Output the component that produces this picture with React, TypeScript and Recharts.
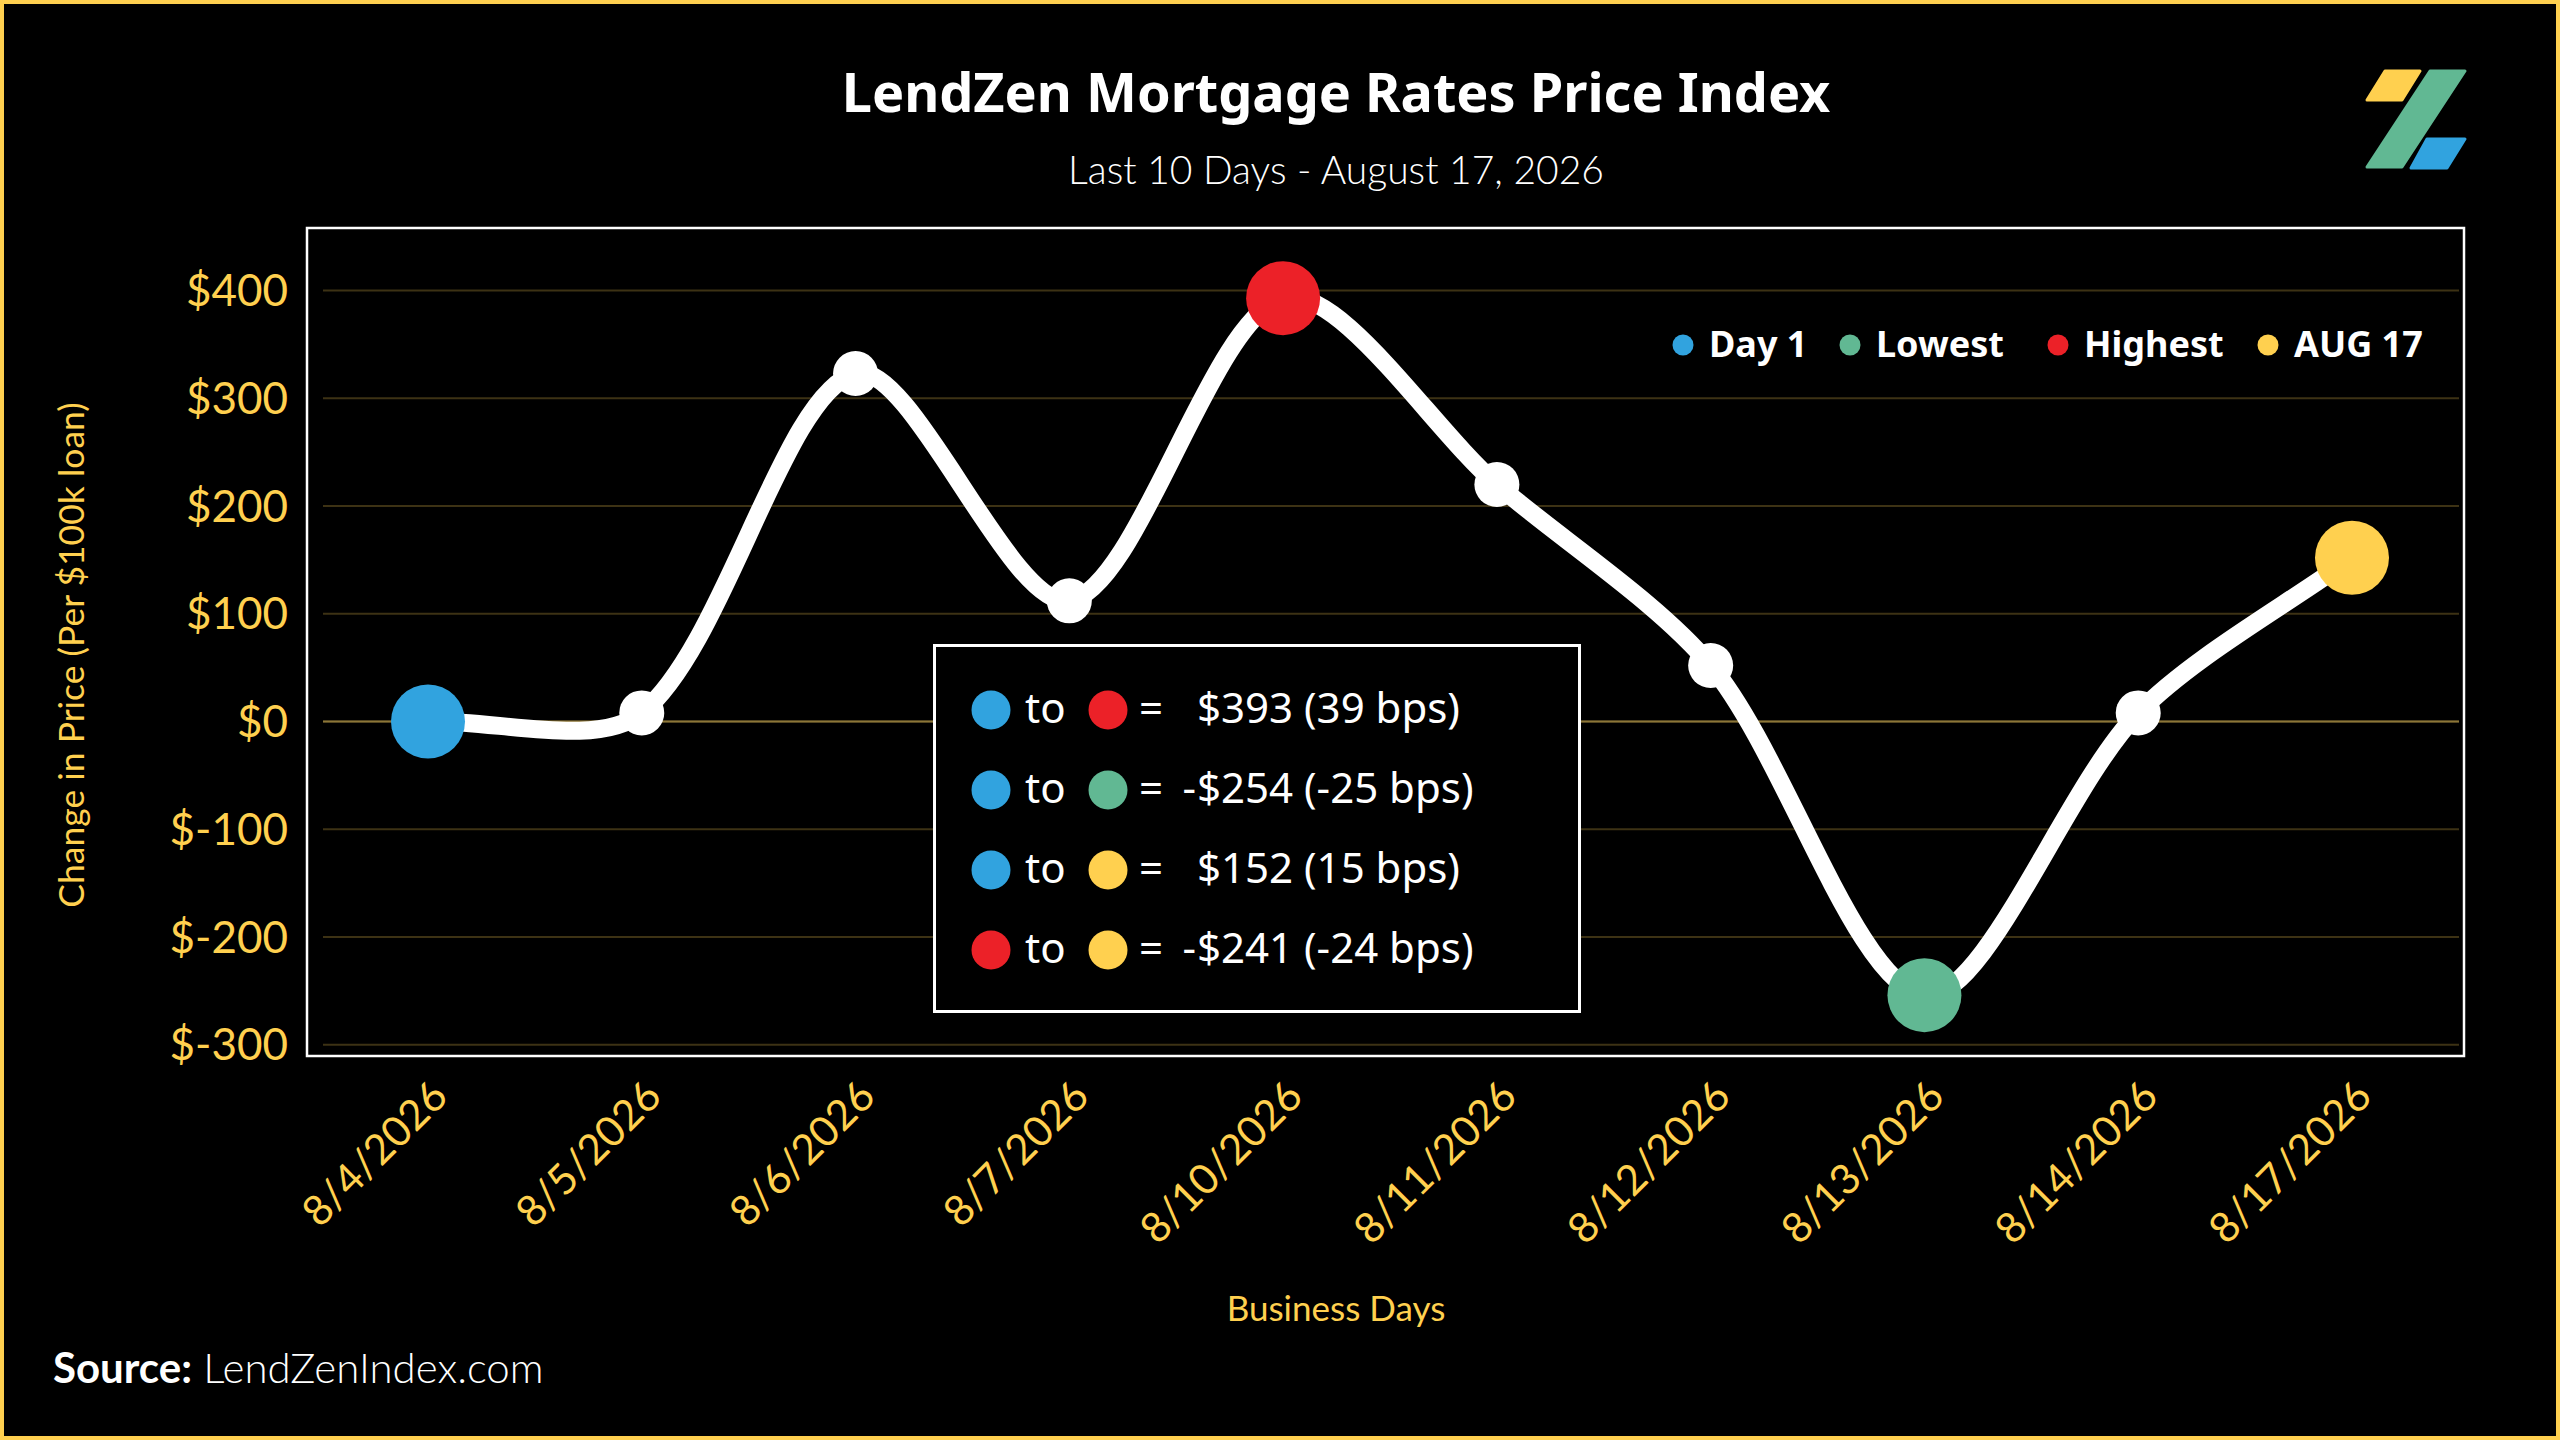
import { LineChart, Line, XAxis, YAxis, CartesianGrid, ReferenceLine } from 'recharts';

const dates = [
  '8/4/2026', '8/5/2026', '8/6/2026', '8/7/2026', '8/10/2026',
  '8/11/2026', '8/12/2026', '8/13/2026', '8/14/2026', '8/17/2026',
];
const priceChange = [0, 8, 323, 112, 393, 220, 52, -254, 8, 152];
const yTicks = [-300, -200, -100, 0, 100, 200, 300, 400];
const legendKeys = ['first', 'low', 'high', 'last'];
const legendLabels = ['Day 1', 'Lowest', 'Highest', 'AUG 17'];
const comparisonPairs = [
  ['first', 'high'],
  ['first', 'low'],
  ['first', 'last'],
  ['high', 'last'],
];

const GOLD = '#FFD04F';
const COLORS: Record<string, string> = {
  first: '#31A3DF',
  low: '#61B893',
  high: '#EC2128',
  last: '#FFD04F',
};

const data = dates.map((date, i) => ({ date, price: priceChange[i] }));

const markerIndex: Record<string, number> = {
  first: 0,
  low: priceChange.indexOf(Math.min(...priceChange)),
  high: priceChange.indexOf(Math.max(...priceChange)),
  last: priceChange.length - 1,
};
const markerKind = (i: number) => legendKeys.find((k) => markerIndex[k] === i);

const formatDiff = (diff: number) =>
  `$${Math.abs(diff)} (${Math.round(diff / 10)} bps)`;

// smoothed line like a spreadsheet: bezier handles weighted by chord length
const smoothCurve = (context: any) => {
  let pts: number[][] = [];
  const dist = (p: number[], q: number[]) => Math.hypot(p[0] - q[0], p[1] - q[1]);
  return {
    areaStart() {},
    areaEnd() {},
    lineStart() {
      pts = [];
    },
    point(x: number, y: number) {
      pts.push([+x, +y]);
    },
    lineEnd() {
      const s = 0.3;
      pts.forEach((p, i) => {
        if (i === 0) {
          context.moveTo(p[0], p[1]);
          return;
        }
        const a = pts[Math.max(i - 2, 0)];
        const b = pts[i - 1];
        const c = pts[Math.min(i + 1, pts.length - 1)];
        const seg = dist(p, b);
        const w1 = (s * seg) / (dist(b, a) + seg || 1);
        const w2 = (s * seg) / (seg + dist(c, p) || 1);
        context.bezierCurveTo(
          b[0] + w1 * (p[0] - a[0]), b[1] + w1 * (p[1] - a[1]),
          p[0] - w2 * (c[0] - b[0]), p[1] - w2 * (c[1] - b[1]),
          p[0], p[1],
        );
      });
    },
  };
};

const renderDot = (props: any) => {
  const { cx, cy, index } = props;
  const kind = markerKind(index);
  return (
    <circle
      key={`dot-${index}`}
      cx={cx}
      cy={cy}
      r={kind ? 37 : 22.5}
      fill={kind ? COLORS[kind] : '#FFFFFF'}
    />
  );
};

const DateTick = ({ x, y, payload }: any) => (
  <text
    x={x + 22}
    y={y + 54}
    transform={`rotate(-45, ${x + 22}, ${y + 54})`}
    textAnchor="end"
    fill={GOLD}
    fontSize={42}
    fontFamily="Lato"
  >
    {payload.value}
  </text>
);

const legendX = [1683, 1850, 2058, 2268];
const rowY = [710, 790, 870, 950];

export default function App() {
  return (
    <div style={{ position: 'absolute', left: 0, top: 0, width: 2560, height: 1440, background: '#000' }}>
      <div style={{ position: 'absolute', left: 0, top: 0 }}>
        <LineChart
          width={2560}
          height={1440}
          data={data}
          margin={{ top: 290.6, right: 101, bottom: 335.3, left: 203 }}
        >
          <CartesianGrid horizontal vertical={false} stroke="#3D3214" strokeWidth={2} />
          <XAxis
            dataKey="date"
            height={60}
            padding={{ left: 105, right: 107 }}
            axisLine={false}
            tickLine={false}
            tickSize={0}
            tickMargin={0}
            interval={0}
            tick={<DateTick />}
          />
          <YAxis
            width={120}
            domain={[-300, 400]}
            ticks={yTicks}
            axisLine={false}
            tickLine={false}
            tickSize={0}
            tickMargin={35}
            tick={{ fill: GOLD, fontSize: 44, fontFamily: 'Lato' }}
            tickFormatter={(v) => `$${v}`}
          />
          <ReferenceLine y={0} stroke="#8C7638" strokeWidth={2} />
          <Line
            type={smoothCurve as any}
            dataKey="price"
            stroke="#FFFFFF"
            strokeWidth={18}
            dot={renderDot}
            activeDot={false}
            isAnimationActive={false}
          />
        </LineChart>
      </div>

      <svg
        width={2560}
        height={1440}
        style={{ position: 'absolute', left: 0, top: 0, pointerEvents: 'none' }}
      >
        <rect x={2} y={2} width={2556} height={1436} fill="none" stroke={GOLD} strokeWidth={4} />
        <rect x={307} y={228} width={2157} height={828} fill="none" stroke="#FFFFFF" strokeWidth={2.5} />

        <text x={1336} y={112} textAnchor="middle" fill="#FFFFFF" fontSize={54} fontWeight={700} fontFamily="Noto Sans">
          LendZen Mortgage Rates Price Index
        </text>
        <text x={1336} y={184} textAnchor="middle" fill="#FFFFFF" fontSize={39} fontWeight={300} fontFamily="Lato">
          Last 10 Days - August 17, 2026
        </text>

        <g strokeLinejoin="round" strokeWidth={3}>
          <polygon points="2367,100 2385,71 2420,71 2402,100" fill="#FFD04F" stroke="#FFD04F" />
          <polygon points="2367,167 2430,71 2465,71 2402,167" fill="#61B893" stroke="#61B893" />
          <polygon points="2411,168 2427,139 2465,139 2447,168" fill="#31A3DF" stroke="#31A3DF" />
        </g>

        <text
          x={84}
          y={655}
          transform="rotate(-90, 84, 655)"
          textAnchor="middle"
          fill={GOLD}
          fontSize={35.5}
          fontFamily="Lato"
        >
          Change in Price (Per $100k loan)
        </text>
        <text x={1336} y={1321} textAnchor="middle" fill={GOLD} fontSize={35} fontFamily="Lato">
          Business Days
        </text>
        <text x={53} y={1383} fill="#FFFFFF" fontSize={42} fontFamily="Lato">
          <tspan fontWeight={700}>Source:</tspan>
          <tspan fontWeight={300}> LendZenIndex.com</tspan>
        </text>

        {legendKeys.map((k, i) => (
          <g key={k}>
            <circle cx={legendX[i]} cy={345} r={10.5} fill={COLORS[k]} />
            <text x={legendX[i] + 26} y={357} fill="#FFFFFF" fontSize={36} fontWeight={700} fontFamily="Noto Sans">
              {legendLabels[i]}
            </text>
          </g>
        ))}

        <rect x={934.5} y={645.5} width={645} height={366} fill="#000" stroke="#FFFFFF" strokeWidth={3} />
        {comparisonPairs.map(([from, to], i) => {
          const diff = priceChange[markerIndex[to]] - priceChange[markerIndex[from]];
          const y = rowY[i];
          return (
            <g key={i} fontFamily="Noto Sans" fontSize={42} fill="#FFFFFF">
              <circle cx={991} cy={y} r={19.5} fill={COLORS[from]} />
              <text x={1025} y={y + 13}>to</text>
              <circle cx={1108} cy={y} r={19.5} fill={COLORS[to]} />
              <text x={1139} y={y + 13}>=</text>
              {diff < 0 && (
                <text x={1196} y={y + 13} textAnchor="end">-</text>
              )}
              <text x={1197} y={y + 13}>{formatDiff(diff)}</text>
            </g>
          );
        })}
      </svg>
    </div>
  );
}
